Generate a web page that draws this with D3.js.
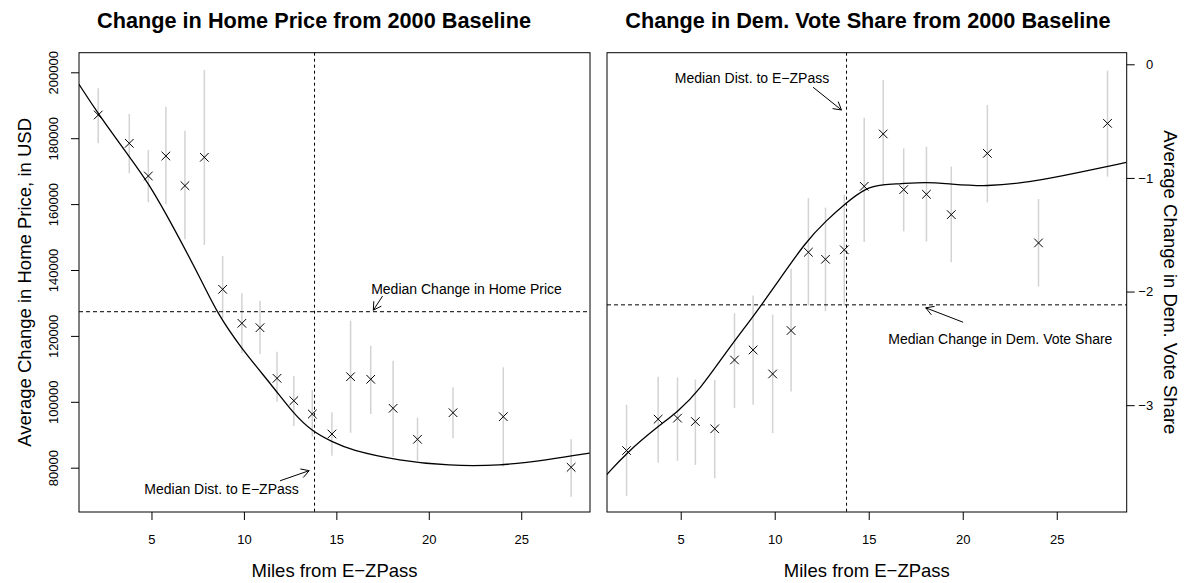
<!DOCTYPE html>
<html>
<head>
<meta charset="utf-8">
<script src="https://cdn.jsdelivr.net/npm/d3@7"></script>
<style>
    body { margin: 0; background: #fff; }
    svg text { font-family: "Liberation Sans", Arial, Helvetica, sans-serif; fill: #000; }
</style>
</head>
<body>
<div id="chart"></div>
<script>

// binned points, miles from E-ZPass
var miles = [2.12, 3.80, 4.83, 5.78, 6.81, 7.86, 8.85, 9.89, 10.87, 11.79, 12.70, 13.70, 14.76, 15.77, 16.86, 18.07, 19.39, 21.31, 24.03, 27.70];

var price = [187040, 178450, 168530, 174600, 165590, 174200, 134140, 123820, 122490, 107130, 100330, 96290, 90230, 107620, 106830, 98020, 88620, 96690, 95480, 80120];
var priceLo = [178450, 169350, 160550, 159940, 149320, 147590, 125340, 114720, 114510, 100030, 92650, 89400, 83640, 90620, 96290, 83340, 82130, 88920, 80310, 71220];
var priceHi = [195150, 187340, 176420, 189560, 182280, 200700, 144250, 132930, 130680, 115200, 107830, 103580, 96810, 124610, 117020, 112470, 95170, 104390, 110470, 88620];

var vote = [-3.399, -3.123, -3.114, -3.144, -3.208, -2.602, -2.514, -2.725, -2.343, -1.654, -1.716, -1.633, -1.074, -0.613, -1.103, -1.144, -1.323, -0.784, -1.572, -0.520];
var voteLo = [-3.798, -3.506, -3.490, -3.525, -3.642, -3.026, -2.997, -3.246, -2.880, -2.123, -2.173, -2.123, -1.565, -1.068, -1.470, -1.560, -1.742, -1.215, -1.956, -0.989];
var voteHi = [-2.997, -2.750, -2.756, -2.774, -2.777, -2.191, -2.035, -2.202, -1.800, -1.176, -1.262, -1.148, -0.471, -0.138, -0.740, -0.725, -0.900, -0.358, -1.185, -0.056];

// smoothed fits
var priceFitX = [1.08, 2.12, 3.8, 4.83, 6.18, 7.8, 8.52, 9.78, 11.58, 12.66, 13.71, 14.77, 15.73, 18.43, 21.1, 23.8, 26.5, 28.7];
var priceFit = [196360, 187340, 174390, 166500, 153140, 135800, 127340, 116720, 104580, 96510, 90920, 87880, 85440, 82100, 80580, 80580, 82400, 84430];

var voteFitX = [1.06, 2.11, 3.79, 4.86, 6.01, 7.43, 8.85, 9.91, 11.69, 12.75, 13.72, 14.88, 15.76, 16.65, 18.07, 19.31, 21.26, 23.56, 26.22, 28.7];
var voteFit = [-3.613, -3.42, -3.187, -3.056, -2.865, -2.529, -2.22, -1.976, -1.551, -1.375, -1.229, -1.082, -1.058, -1.052, -1.035, -1.053, -1.077, -1.039, -0.951, -0.863];

var medianDist = 13.82;
var medianPrice = 127340;
var medianVote = -2.117;

var xTicks = [5, 10, 15, 20, 25];
var priceTicks = [80000, 100000, 120000, 140000, 160000, 180000, 200000];
var voteTicks = [-3, -2, -1, 0];

var W = 1194, H = 583;

var svg = d3.select("#chart").append("svg")
    .attr("width", W)
    .attr("height", H);

var plotTop = 52.7, plotBottom = 512;

var panels = [
    {
        left: 79, right: 590, titleX: 314,
        title: "Change in Home Price from 2000 Baseline",
        ylab: "Average Change in Home Price, in USD",
        yDomain: [66555, 205950],
        ticks: priceTicks,
        side: "left",
        vals: price, lo: priceLo, hi: priceHi,
        fitX: priceFitX, fit: priceFit,
        median: medianPrice,
        notes: [
            {text: "Median Change in Home Price", x: 22.04, y: 134230, from: [17.5, 132100], to: [17.0, 127800]},
            {text: "Median Dist. to E\u2212ZPass", x: 8.79, y: 73440, from: [11.95, 76020], to: [13.53, 79100]}
        ]
    },
    {
        left: 607, right: 1126.7, titleX: 868,
        title: "Change in Dem. Vote Share from 2000 Baseline",
        ylab: "Average Change in Dem. Vote Share",
        yDomain: [-3.94, 0.102],
        ticks: voteTicks,
        side: "right",
        vals: vote, lo: voteLo, hi: voteHi,
        fitX: voteFitX, fit: voteFit,
        median: medianVote,
        notes: [
            {text: "Median Dist. to E\u2212ZPass", x: 8.79, y: -0.123, from: [12.04, -0.202], to: [13.55, -0.402]},
            {text: "Median Change in Dem. Vote Share", x: 22.0, y: -2.422, from: [20.02, -2.27], to: [18.03, -2.143]}
        ]
    }
];

panels.forEach(function (p, k) {

    var x = d3.scaleLinear().domain([1.08, 28.72]).range([p.left, p.right]);
    var y = d3.scaleLinear().domain(p.yDomain).range([plotBottom, plotTop]);

    var g = svg.append("g");

    svg.append("defs").append("clipPath")
        .attr("id", "clip" + k)
        .append("rect")
        .attr("x", p.left).attr("y", plotTop)
        .attr("width", p.right - p.left)
        .attr("height", plotBottom - plotTop);

    // error bars
    g.selectAll(".err")
        .data(miles)
        .enter().append("line")
        .attr("x1", function (d) { return x(d); })
        .attr("x2", function (d) { return x(d); })
        .attr("y1", function (d, i) { return y(p.lo[i]); })
        .attr("y2", function (d, i) { return y(p.hi[i]); })
        .attr("stroke", "#d3d3d3")
        .attr("stroke-width", 1.5);

    // medians
    g.append("line")
        .attr("x1", p.left).attr("x2", p.right)
        .attr("y1", y(p.median)).attr("y2", y(p.median))
        .attr("stroke", "#000").attr("stroke-width", 1)
        .attr("stroke-dasharray", "4,3");

    g.append("line")
        .attr("x1", x(medianDist)).attr("x2", x(medianDist))
        .attr("y1", plotTop).attr("y2", plotBottom)
        .attr("stroke", "#000").attr("stroke-width", 1)
        .attr("stroke-dasharray", "3,3");

    // crosses
    var s = 4.3;
    g.selectAll(".pt")
        .data(miles)
        .enter().append("path")
        .attr("d", function (d, i) {
            var cx = x(d), cy = y(p.vals[i]);
            return "M" + (cx - s) + "," + (cy - s) + "L" + (cx + s) + "," + (cy + s) +
                "M" + (cx - s) + "," + (cy + s) + "L" + (cx + s) + "," + (cy - s);
        })
        .attr("stroke", "#000")
        .attr("stroke-width", 1)
        .attr("fill", "none");

    // smooth fit
    var line = d3.line()
        .curve(d3.curveBasis)
        .x(function (d) { return x(d[0]); })
        .y(function (d) { return y(d[1]); });

    g.append("path")
        .datum(p.fitX.map(function (d, i) { return [d, p.fit[i]]; }))
        .attr("d", line)
        .attr("clip-path", "url(#clip" + k + ")")
        .attr("fill", "none")
        .attr("stroke", "#000")
        .attr("stroke-width", 1.3);

    // annotations
    p.notes.forEach(function (n) {
        g.append("text")
            .attr("x", x(n.x)).attr("y", y(n.y))
            .attr("dy", "0.35em")
            .attr("text-anchor", "middle")
            .style("font-size", "14px")
            .text(n.text);

        var x0 = x(n.from[0]), y0 = y(n.from[1]),
            x1 = x(n.to[0]), y1 = y(n.to[1]);
        var a = Math.atan2(y1 - y0, x1 - x0), L = 9, sp = Math.PI / 6;
        g.append("path")
            .attr("d", "M" + x0 + "," + y0 + "L" + x1 + "," + y1 +
                "M" + (x1 - L * Math.cos(a - sp)) + "," + (y1 - L * Math.sin(a - sp)) +
                "L" + x1 + "," + y1 +
                "L" + (x1 - L * Math.cos(a + sp)) + "," + (y1 - L * Math.sin(a + sp)))
            .attr("fill", "none")
            .attr("stroke", "#000")
            .attr("stroke-width", 1);
    });

    // box
    svg.append("rect")
        .attr("x", p.left).attr("y", plotTop)
        .attr("width", p.right - p.left)
        .attr("height", plotBottom - plotTop)
        .attr("fill", "none")
        .attr("stroke", "#000")
        .attr("stroke-width", 1);

    // x axis
    var xa = svg.append("g")
        .attr("transform", "translate(0," + plotBottom + ")")
        .call(d3.axisBottom(x).tickValues(xTicks).tickSize(8).tickPadding(15));
    xa.select(".domain").remove();
    xa.selectAll("text").style("font-size", "13px");

    svg.append("text")
        .attr("x", (p.left + p.right) / 2)
        .attr("y", 571)
        .attr("dy", "0.35em")
        .attr("text-anchor", "middle")
        .style("font-size", "18.5px")
        .text("Miles from E\u2212ZPass");

    // y axis
    if (p.side == "left") {
        var ya = svg.append("g")
            .attr("transform", "translate(" + p.left + ",0)")
            .call(d3.axisLeft(y).tickValues(p.ticks).tickSize(8).tickFormat(d3.format("d")));
        ya.select(".domain").remove();
        ya.selectAll("text")
            .attr("x", 0).attr("dy", "0.35em")
            .attr("text-anchor", "middle")
            .attr("transform", "translate(-26,0) rotate(-90)")
            .style("font-size", "13px");

        svg.append("text")
            .attr("transform", "translate(25," + ((plotTop + plotBottom) / 2) + ") rotate(-90)")
            .attr("dy", "0.35em")
            .attr("text-anchor", "middle")
            .style("font-size", "18.5px")
            .text(p.ylab);
    } else {
        var yb = svg.append("g")
            .attr("transform", "translate(" + p.right + ",0)")
            .call(d3.axisRight(y).tickValues(p.ticks).tickSize(8).tickFormat(d3.format("d")));
        yb.select(".domain").remove();
        yb.selectAll("text")
            .attr("x", 26.5)
            .attr("text-anchor", "end")
            .style("font-size", "13px");

        svg.append("text")
            .attr("transform", "translate(1170," + ((plotTop + plotBottom) / 2) + ") rotate(90)")
            .attr("dy", "0.35em")
            .attr("text-anchor", "middle")
            .style("font-size", "18.5px")
            .text(p.ylab);
    }

    svg.selectAll(".tick line").attr("stroke", "#000");

    // title
    svg.append("text")
        .attr("x", p.titleX)
        .attr("y", 20)
        .attr("dy", "0.35em")
        .attr("text-anchor", "middle")
        .style("font-size", "21.7px")
        .style("font-weight", "bold")
        .text(p.title);
});

</script>
</body>
</html>
